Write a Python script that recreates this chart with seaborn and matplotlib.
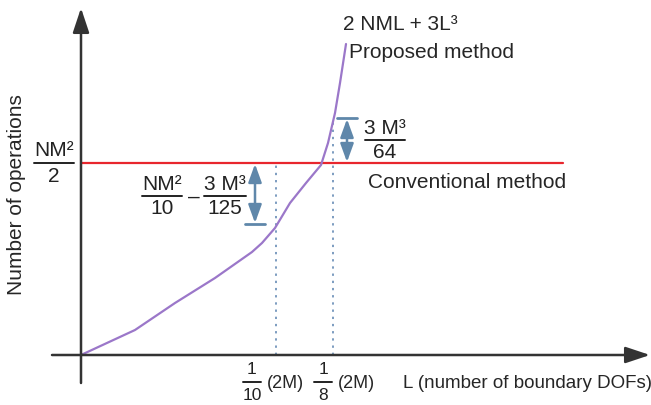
import matplotlib
matplotlib.use("Agg")
import matplotlib.pyplot as plt
import seaborn as sns

# curve of the proposed method (L, number of operations)
L_vals = [0, 54, 94, 134, 171, 181, 194, 209, 225, 240, 247, 254, 259, 265]
ops_vals = [0, 25, 52, 77, 103, 112, 127, 152, 172, 190, 212, 242, 272, 311]

# conventional method: constant level
conv_level = 192
conv_L = [0, 482]

# marked L values: 1/10 (2M) and 1/8 (2M)
tick_L = [195, 252]
tick_top = [192, 237]

# differences shown with the double arrows
gap_L = [174, 266]
gap_low = [131, 192]
gap_high = [192, 237]

sns.set_style("white")
plt.rcParams["font.family"] = ["Liberation Sans", "DejaVu Sans"]

fig = plt.figure(figsize=(6.51, 4.05), dpi=100)
ax = fig.add_axes([0, 0, 1, 1])
ax.set_xlim(-81, 570)
ax.set_ylim(-50, 355)
ax.axis("off")

dark = "#333333"
blue = "#5f87aa"

# axes with arrow heads
ax.annotate("", xy=(569, 0), xytext=(-29, 0),
            arrowprops=dict(arrowstyle="-|>,head_length=0.75,head_width=0.25",
                            mutation_scale=20, color=dark, lw=1.8, shrinkA=0, shrinkB=0))
ax.annotate("", xy=(0, 347), xytext=(0, -28),
            arrowprops=dict(arrowstyle="-|>,head_length=0.75,head_width=0.25",
                            mutation_scale=20, color=dark, lw=1.8, shrinkA=0, shrinkB=0))

# dotted guide lines
for x, top in zip(tick_L, tick_top):
    ax.plot([x, x], [0, top], color="#7c9cc0", ls=(0, (1.2, 2.5)), lw=1.4)

# conventional method
ax.plot(conv_L, [conv_level, conv_level], color="#e8262d", lw=1.6)

# proposed method
sns.lineplot(x=L_vals, y=ops_vals, sort=False, estimator=None, ax=ax,
             color="#9b77c9", lw=1.6)

# double arrows with bars
for x, lo, hi, bar_y in zip(gap_L, gap_low, gap_high, [gap_low[0], gap_high[1]]):
    ax.annotate("", xy=(x, hi - 1), xytext=(x, lo + 1),
                arrowprops=dict(arrowstyle="<|-|>,head_length=0.55,head_width=0.2",
                                mutation_scale=20, color=blue, lw=1.8, shrinkA=0, shrinkB=0))
    ax.plot([x - 10, x + 10], [bar_y, bar_y], color=blue, lw=2)


def frac(cx, y_bar, num, den, half, size=15):
    ax.text(cx, y_bar + 12, num, ha="center", va="center", fontsize=size, color="#222222")
    ax.text(cx, y_bar - 13, den, ha="center", va="center", fontsize=size, color="#222222")
    ax.plot([cx - half, cx + half], [y_bar, y_bar], color="#222222", lw=1.4)


# y label and level
ax.text(-64, 160, "Number of operations", rotation=90, ha="center", va="center", fontsize=15)
frac(-27, 192, "NM²", "2", 20)

# left difference
frac(81, 159, "NM²", "10", 20)
ax.text(113, 158, "–", ha="center", va="center", fontsize=15, color="#222222")
frac(144, 159, "3 M³", "125", 21)

# right difference
frac(304, 215, "3 M³", "64", 20)

ax.text(262, 330, "2 NML + 3L³", ha="left", va="center", fontsize=15)
ax.text(268, 302, "Proposed method", ha="left", va="center", fontsize=15)
ax.text(287, 173, "Conventional method", ha="left", va="center", fontsize=15)

# x tick labels
frac(171, -27, "1", "10", 9, size=12.5)
ax.text(186, -28, "(2M)", ha="left", va="center", fontsize=13)
frac(242, -27, "1", "8", 9, size=12.5)
ax.text(257, -28, "(2M)", ha="left", va="center", fontsize=13)
ax.text(322, -28, "L (number of boundary DOFs)", ha="left", va="center", fontsize=13.5)

fig.savefig("out.png", dpi=100)
